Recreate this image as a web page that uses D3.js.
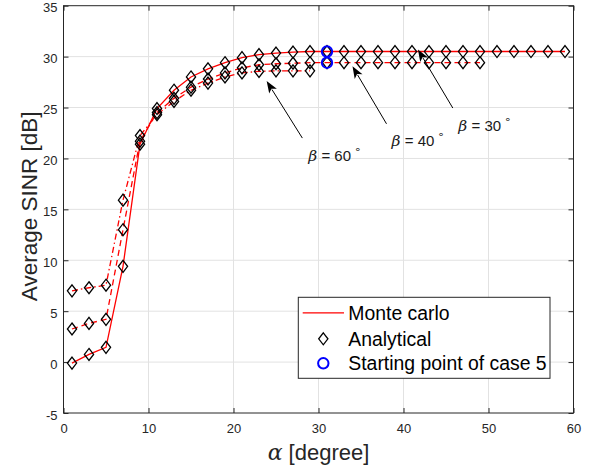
<!DOCTYPE html>
<html>
<head>
<meta charset="utf-8">
<script src="https://cdn.jsdelivr.net/npm/d3@7"></script>
<style>
  html, body { margin: 0; padding: 0; background: #fff; }
  svg { display: block; font-family: "Liberation Sans", Arial, sans-serif; }
</style>
</head>
<body>
<svg id="chart" width="592" height="469"></svg>
<script>
// ---------- data ----------
const alpha30 = [1,3,5,7,9,11,13,15,17,19,21,23,25,27,29,31,33,35,37,39,41,43,45,47,49,51,53,55,57,59];
const sinr30  = [-0.1,0.75,1.45,9.4,21.4,24.9,26.7,28.0,28.8,29.4,29.9,30.2,30.35,30.45,30.5,30.5,30.5,30.5,30.5,30.5,30.5,30.5,30.5,30.5,30.5,30.5,30.5,30.5,30.5,30.5];
const alpha40 = [1,3,5,7,9,11,13,15,17,19,21,23,25,27,29,31,33,35,37,39,41,43,45,47,49];
const sinr40  = [3.25,3.8,4.2,13.0,21.7,24.5,25.9,27.0,27.8,28.4,28.9,29.2,29.3,29.35,29.4,29.4,29.4,29.4,29.4,29.4,29.4,29.4,29.4,29.4,29.4];
const alpha60 = [1,3,5,7,9,11,13,15,17,19,21,23,25,27,29];
const sinr60  = [7.0,7.3,7.55,15.9,22.25,24.3,25.6,26.7,27.4,28.0,28.4,28.55,28.6,28.6,28.6];
const startAlpha = [31, 31];
const startSinr  = [30.5, 29.4];
const xTicks = [0,10,20,30,40,50,60];
const yTicks = [-5,0,5,10,15,20,25,30,35];
const legendLabels = ["Monte carlo", "Analytical", "Starting point of case 5"];
const betaLabels = ["60", "40", "30"];
// annotation anchors in data units: arrow tip, arrow tail, text position
const annTip  = [[23.9,27.6],[34.0,29.05],[41.7,30.7]];
const annTail = [[28.1,22.0],[38.0,23.4],[45.8,24.95]];
const annText = [[28.8,19.7],[38.6,21.2],[46.45,22.65]];

// ---------- layout ----------
const L = 63.5, R = 573.5, T = 5.7, B = 413;
const svg = d3.select("#chart");
const x = d3.scaleLinear().domain([0,60]).range([L,R]);
const y = d3.scaleLinear().domain([-5,35]).range([B,T]);
const axisColor = "#262626";
const fmt = d => String(d);

// grid
const grid = svg.append("g").attr("stroke", "#e2e2e2").attr("stroke-width", 1);
grid.selectAll(".gx").data(xTicks.slice(1,-1)).join("line")
  .attr("x1", d => x(d)).attr("x2", d => x(d)).attr("y1", T).attr("y2", B);
grid.selectAll(".gy").data(yTicks.slice(1,-1)).join("line")
  .attr("y1", d => y(d)).attr("y2", d => y(d)).attr("x1", L).attr("x2", R);

// axes
function styleAxis(g) {
  g.select(".domain").remove();
  g.selectAll(".tick line").attr("stroke", axisColor);
  g.selectAll(".tick text").attr("fill", axisColor).attr("font-size", "13px")
    .attr("font-family", "'Liberation Sans', Arial, sans-serif");
}
svg.append("g").attr("transform", `translate(0,${B})`)
  .call(d3.axisBottom(x).tickValues(xTicks).tickSize(-5).tickPadding(10.5).tickFormat(fmt)).call(styleAxis);
svg.append("g").attr("transform", `translate(0,${T})`)
  .call(d3.axisTop(x).tickValues(xTicks).tickSize(-5).tickFormat("")).call(styleAxis);
const yAxisG = svg.append("g").attr("transform", `translate(${L},0)`)
  .call(d3.axisLeft(y).tickValues(yTicks).tickSize(-5).tickPadding(6).tickFormat(fmt)).call(styleAxis);
yAxisG.selectAll(".tick text").attr("dy", "0.47em");
svg.append("g").attr("transform", `translate(${R},0)`)
  .call(d3.axisRight(y).tickValues(yTicks).tickSize(-5).tickFormat("")).call(styleAxis);

svg.append("rect").attr("x", L).attr("y", T).attr("width", R - L).attr("height", B - T)
  .attr("fill", "none").attr("stroke", axisColor).attr("stroke-width", 1);

// series
const series = [
  {a: alpha30, v: sinr30, dash: null},
  {a: alpha40, v: sinr40, dash: "6,4"},
  {a: alpha60, v: sinr60, dash: "6,3,1.5,3"}
];
const line = d3.line().x(d => x(d[0])).y(d => y(d[1]));
const diamond = (cx, cy) => `M${cx},${cy-6}L${cx+4.6},${cy}L${cx},${cy+6}L${cx-4.6},${cy}Z`;

const plot = svg.append("g");
series.forEach(s => {
  const pts = s.a.map((a, i) => [a, s.v[i]]);
  plot.append("path").attr("d", line(pts)).attr("fill", "none")
    .attr("stroke", "#ff0000").attr("stroke-width", 1.3)
    .attr("stroke-dasharray", s.dash);
});
series.forEach(s => {
  plot.selectAll(null).data(s.a.map((a, i) => [a, s.v[i]])).join("path")
    .attr("d", d => diamond(x(d[0]), y(d[1])))
    .attr("fill", "none").attr("stroke", "#000").attr("stroke-width", 1.3);
});
plot.selectAll(null).data(startAlpha.map((a, i) => [a, startSinr[i]])).join("circle")
  .attr("cx", d => x(d[0])).attr("cy", d => y(d[1])).attr("r", 5.2)
  .attr("fill", "none").attr("stroke", "#0000ff").attr("stroke-width", 2);

// annotations
const ann = svg.append("g");
betaLabels.forEach((lab, i) => {
  const tx = x(annTip[i][0]), ty = y(annTip[i][1]);
  const sx = x(annTail[i][0]), sy = y(annTail[i][1]);
  const dx = tx - sx, dy = ty - sy, len = Math.hypot(dx, dy);
  const ux = dx / len, uy = dy / len;
  const hl = 12, hw = 4.5;
  const bx = tx - ux * hl, by = ty - uy * hl;
  ann.append("line").attr("x1", sx).attr("y1", sy).attr("x2", bx + ux * 2).attr("y2", by + uy * 2)
    .attr("stroke", "#000").attr("stroke-width", 1);
  ann.append("path")
    .attr("d", `M${tx},${ty}L${bx - uy * hw},${by + ux * hw}L${bx + ux * 3},${by + uy * 3}L${bx + uy * hw},${by - ux * hw}Z`)
    .attr("fill", "#000");
  const t = ann.append("text").attr("x", x(annText[i][0])).attr("y", y(annText[i][1]))
    .attr("font-size", "15px").attr("fill", "#1a1a1a");
  t.append("tspan").attr("font-family", "'DejaVu Serif', 'Liberation Serif', serif")
    .attr("font-style", "italic").attr("font-size", "15.5px").text("β");
  t.append("tspan").attr("font-family", "'Liberation Sans', Arial, sans-serif").text(" = " + lab);
  t.append("tspan").attr("font-family", "'DejaVu Sans', sans-serif").attr("font-size", "11px")
    .attr("dx", 3).attr("dy", -8).text("∘");
});

// axis labels
const xl = svg.append("text").attr("x", (L + R) / 2).attr("y", 460)
  .attr("text-anchor", "middle").attr("font-size", "22px").attr("fill", axisColor);
xl.append("tspan").attr("font-family", "'DejaVu Serif', 'Liberation Serif', serif")
  .attr("font-style", "italic").text("α");
xl.append("tspan").text(" [degree]");

svg.append("text").attr("transform", `translate(36.5,${(T + B) / 2 - 3}) rotate(-90)`)
  .attr("text-anchor", "middle").attr("font-size", "22.5px").attr("fill", axisColor)
  .text("Average SINR [dB]");

// legend
const lg = svg.append("g");
lg.append("rect").attr("x", 298.3).attr("y", 297.3).attr("width", 251.7).attr("height", 81)
  .attr("fill", "#fff").attr("stroke", axisColor).attr("stroke-width", 1);
const rowY = [312.8, 338.8, 363.3];
lg.append("line").attr("x1", 302.7).attr("x2", 344).attr("y1", rowY[0]).attr("y2", rowY[0])
  .attr("stroke", "#ff0000").attr("stroke-width", 1.3);
lg.append("path").attr("d", diamond(323.3, rowY[1])).attr("fill", "none")
  .attr("stroke", "#000").attr("stroke-width", 1.3);
lg.append("circle").attr("cx", 323.3).attr("cy", rowY[2]).attr("r", 5.2)
  .attr("fill", "none").attr("stroke", "#0000ff").attr("stroke-width", 2);
lg.selectAll(null).data(legendLabels).join("text")
  .attr("x", 348.3).attr("y", (d, i) => rowY[i] + 7)
  .attr("font-size", "19.4px").attr("fill", "#000").text(d => d);
</script>
</body>
</html>
